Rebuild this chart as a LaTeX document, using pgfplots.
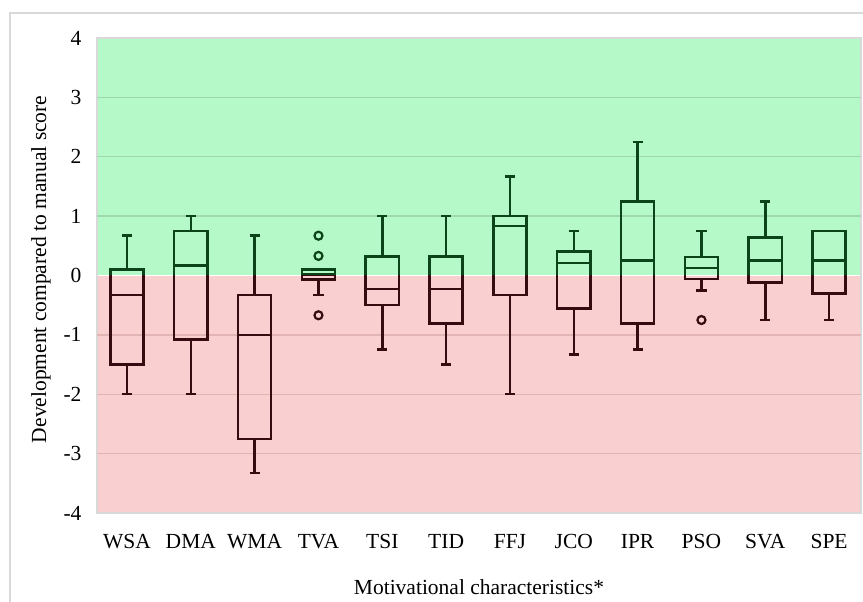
\documentclass[border=0pt]{standalone}
\usepackage{fontspec}
\setmainfont{Liberation Serif}
\usepackage{pgfplots}
\usepackage{pgfplotstable}
\pgfplotsset{compat=1.18}
\usepgfplotslibrary{statistics}
\definecolor{bggreen}{HTML}{B6F9C9}
\definecolor{bgred}{HTML}{F9CFCF}
\definecolor{boxgreen}{HTML}{0B4419}
\definecolor{boxred}{HTML}{360C10}
\definecolor{gridgreen}{HTML}{A0D9B0}
\definecolor{gridred}{HTML}{E2B4B4}
\definecolor{framegray}{HTML}{D9D9D9}
\newcommand{\tf}{\fontsize{21.5}{25}\selectfont}

\pgfplotstableread{
x y
3 0.67
3 0.33
3 -0.67
9 -0.75
}\outliers

% colour, position, lower whisker, lower quartile, median, upper quartile, upper whisker
\newcommand{\bxp}[7]{%
\addplot[#1, line width=2.5pt, boxplot/draw direction=y, boxplot prepared={draw position=#2,
  lower whisker=#3, lower quartile=#4, median=#5,
  upper quartile=#6, upper whisker=#7,
  box extend=0.52, whisker extend=0.16}] coordinates {};}

\newcommand{\allboxes}[1]{%
\bxp{#1}{0}{-2.00}{-1.50}{-0.33}{0.10}{0.67}
\bxp{#1}{1}{-2.00}{-1.08}{0.17}{0.75}{1.00}
\bxp{#1}{2}{-3.33}{-2.75}{-1.00}{-0.33}{0.67}
\bxp{#1}{3}{-0.33}{-0.07}{0.02}{0.10}{0.10}
\bxp{#1}{4}{-1.25}{-0.50}{-0.23}{0.32}{1.00}
\bxp{#1}{5}{-1.50}{-0.81}{-0.23}{0.32}{1.00}
\bxp{#1}{6}{-2.00}{-0.33}{0.83}{1.00}{1.67}
\bxp{#1}{7}{-1.33}{-0.56}{0.21}{0.40}{0.75}
\bxp{#1}{8}{-1.25}{-0.81}{0.25}{1.25}{2.25}
\bxp{#1}{9}{-0.25}{-0.06}{0.13}{0.31}{0.75}
\bxp{#1}{10}{-0.75}{-0.12}{0.25}{0.64}{1.25}
\bxp{#1}{11}{-0.75}{-0.30}{0.25}{0.75}{0.75}
\addplot[only marks, #1, mark=o, mark size=4pt, mark options={line width=2.2pt}]
  table[x=x, y=y] {\outliers};
}

\pgfplotsset{
  base/.style={scale only axis, width=764pt, xmin=-0.47, xmax=11.5, anchor=south west},
  over/.style={base, height=237.5pt, axis line style={draw=none},
    xtick=\empty, ytick=\empty, boxplot/draw direction=y},
}

\begin{document}
\begin{tikzpicture}
\useasboundingbox (0pt,0pt) rectangle (863pt,602pt);
\fill[white] (0pt,0pt) rectangle (863pt,602pt);
\draw[framegray, line width=1.2pt] (10pt,-20pt) -- (10pt,589pt) -- (900pt,589pt);

% main axis: background, ticks, labels
\begin{axis}[base, at={(97pt,89pt)}, height=475pt, ymin=-4, ymax=4,
  ytick={-4,-3,-2,-1,0,1,2,3,4},
  yticklabels={-4,-3,-2,-1,0,1,2,3,4},
  xtick={0,1,2,3,4,5,6,7,8,9,10,11},
  xticklabels={WSA,DMA,WMA,TVA,TSI,TID,FFJ,JCO,IPR,PSO,SVA,SPE},
  major tick length=0pt,
  axis line style={framegray, line width=1.2pt},
  tick label style={font=\tf},
  xticklabel style={yshift=-17pt, text height=14.5pt, text depth=4.5pt},
  yticklabel style={xshift=-12pt},
  label style={font=\tf},
  xlabel={Motivational characteristics*},
  ylabel={Development compared to manual score},
  xlabel style={at={(axis description cs:0.5,-0.156)}, anchor=center},
  ylabel style={at={(axis description cs:-0.0733,0.513)}, anchor=center},
  axis on top,
]
\fill[bggreen] (rel axis cs:0,0.5) rectangle (rel axis cs:1,1);
\fill[bgred] (rel axis cs:0,0) rectangle (rel axis cs:1,0.5);
\draw[white, line width=1.6pt] (rel axis cs:0,0.5) -- (rel axis cs:1,0.5);
\end{axis}

% upper half: dark green
\begin{axis}[over, at={(97pt,326.5pt)}, ymin=0, ymax=4]
\draw[gridgreen, line width=1.3pt] (rel axis cs:0,0.25) -- (rel axis cs:1,0.25);
\draw[gridgreen, line width=1.3pt] (rel axis cs:0,0.5) -- (rel axis cs:1,0.5);
\draw[gridgreen, line width=1.3pt] (rel axis cs:0,0.75) -- (rel axis cs:1,0.75);
\allboxes{boxgreen}
\end{axis}

% lower half: dark red
\begin{axis}[over, at={(97pt,89pt)}, ymin=-4, ymax=0]
\draw[gridred, line width=1.3pt] (rel axis cs:0,0.25) -- (rel axis cs:1,0.25);
\draw[gridred, line width=1.3pt] (rel axis cs:0,0.5) -- (rel axis cs:1,0.5);
\draw[gridred, line width=1.3pt] (rel axis cs:0,0.75) -- (rel axis cs:1,0.75);
\allboxes{boxred}
\end{axis}
\end{tikzpicture}
\end{document}
